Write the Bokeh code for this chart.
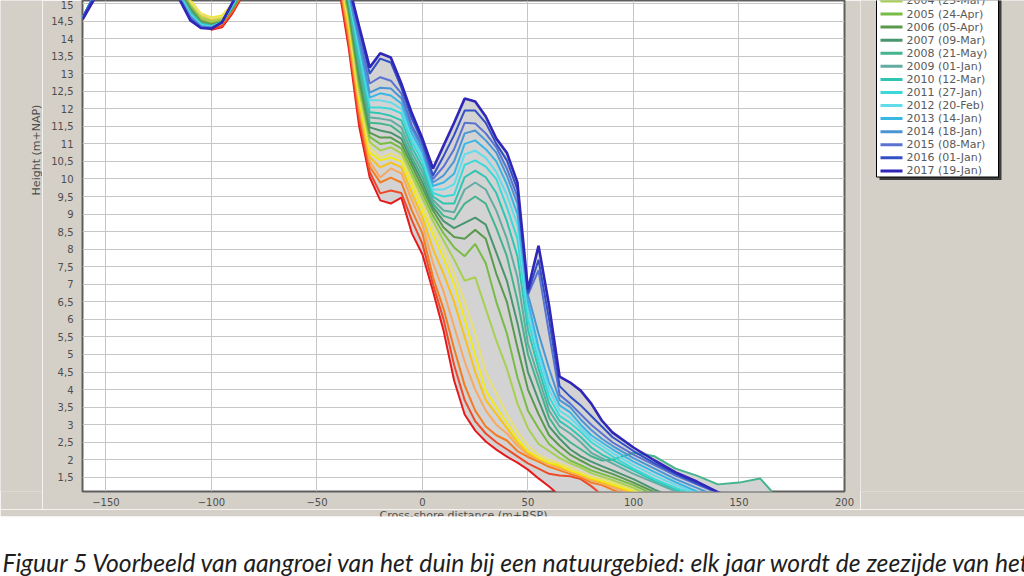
import math
import numpy as np
from bokeh.plotting import figure
from bokeh.layouts import column, row
from bokeh.models import Range1d, FixedTicker, CustomJSTickFormatter, ColumnDataSource
from bokeh.core.properties import value
from bokeh.embed import file_html
from bokeh.resources import INLINE

# ---------------- data ----------------
distance = [-161, -150, -130, -120, -115, -110, -105, -100, -95, -90, -85, -70, -55, -45,
            -40, -35, -30, -25, -20, -15, -10, -5, 0, 5, 10, 15, 20, 25, 30, 35, 40, 45,
            50, 55, 60, 65, 70, 75, 80, 85, 90, 100, 110, 120, 130, 140, 150, 160, 170]

years = [1997, 1998, 1999, 2000, 2001, 2002, 2003, 2004, 2005, 2006, 2007,
         2008, 2009, 2010, 2011, 2012, 2013, 2014, 2015, 2016, 2017]

legend_years = [2004, 2005, 2006, 2007, 2008, 2009, 2010, 2011, 2012, 2013, 2014, 2015, 2016, 2017]
legend_dates = ["25-Mar", "24-Apr", "05-Apr", "09-Mar", "21-May", "01-Jan", "12-Mar", "27-Jan",
                "20-Feb", "14-Jan", "18-Jan", "08-Mar", "01-Jan", "19-Jan"]

colors = ["#e41a1c", "#ee4a2a", "#f47c20", "#f8a860", "#f6c21c", "#f2ea1a", "#e8e070",
          "#a8d050", "#78bc46", "#5a9a4c", "#4a9470", "#44b48c", "#62aca2", "#30c4b2",
          "#3cd8d8", "#62dcea", "#3ab6e4", "#4a96d4", "#5a72d2", "#3050c4", "#3026b8"]

h1997 = [14.6, 15.9, 16.1, 15.7, 15.35, 14.9, 14.5, 14.25, 14.32, 14.72, 15.25, 16.2, 16.6, 16.8,
         15.6, 13.75, 11.5, 10.05, 9.39, 9.3, 9.47, 8.45, 7.85, 6.8, 5.68, 4.26, 3.29, 2.83, 2.52,
         2.29, 2.09, 1.92, 1.72, 1.47, 1.24, 0.98, 0.7, 0.5, 0.3, 0.1, 0.0, -0.3, -0.5, -0.7,
         -0.9, -1.0, -1.1, -1.2, -1.3]
h1998 = [14.6, 15.9, 16.1, 15.7, 15.35, 14.9, 14.5, 14.28, 14.36, 14.76, 15.3, 16.2, 16.6, 16.8,
         15.75, 13.9, 11.7, 10.2, 9.59, 9.67, 9.6, 8.82, 8.15, 7.0, 6.0, 4.7, 3.7, 3.1, 2.75,
         2.5, 2.3, 2.1, 1.9, 1.75, 1.6, 1.55, 1.53, 1.45, 1.25, 1.0, 0.8, 0.5, 0.2, 0.0,
         -0.2, -0.4, -0.6, -0.8, -1.0]
h1999 = [14.6, 15.9, 16.1, 15.7, 15.4, 14.95, 14.55, 14.35, 14.42, 14.82, 15.3, 16.2, 16.6, 16.8,
         15.85, 14.05, 11.9, 10.35, 9.9, 10.04, 9.9, 9.1, 8.45, 7.2, 6.3, 5.17, 4.12, 3.4, 2.95,
         2.7, 2.55, 2.25, 2.08, 1.95, 1.8, 1.7, 1.6, 1.5, 1.35, 1.28, 1.15, 0.9, 0.6, 0.3,
         0.1, -0.1, -0.3, -0.5, -0.7]
h2000 = [14.6, 15.9, 16.1, 15.7, 15.45, 15.0, 14.6, 14.45, 14.5, 14.88, 15.35, 16.2, 16.6, 16.8,
         15.95, 14.2, 12.05, 10.5, 10.04, 10.3, 10.16, 9.39, 8.7, 7.6, 6.8, 5.8, 4.8, 4.0, 3.4,
         3.0, 2.75, 2.4, 2.15, 2.0, 1.88, 1.75, 1.65, 1.55, 1.42, 1.32, 1.22, 1.0, 0.7, 0.4,
         0.2, 0.0, -0.2, -0.4, -0.6]
h2001 = [14.6, 15.9, 16.1, 15.7, 15.5, 15.05, 14.68, 14.55, 14.6, 14.95, 15.4, 16.2, 16.6, 16.8,
         16.0, 14.35, 12.2, 10.62, 10.33, 10.47, 10.33, 9.6, 8.9, 8.0, 7.3, 6.5, 5.5, 4.5, 3.7,
         3.3, 2.9, 2.5, 2.2, 2.03, 1.9, 1.8, 1.68, 1.58, 1.45, 1.36, 1.27, 1.05, 0.75, 0.45,
         0.25, 0.05, -0.15, -0.35, -0.55]
h2002 = [14.6, 15.9, 16.1, 15.7, 15.5, 15.1, 14.72, 14.6, 14.66, 15.0, 15.45, 16.2, 16.6, 16.8,
         16.05, 14.45, 12.3, 10.75, 10.53, 10.61, 10.5, 9.81, 9.1, 8.4, 7.74, 7.0, 6.0, 4.97, 3.97,
         3.5, 3.05, 2.6, 2.25, 2.06, 1.92, 1.85, 1.7, 1.6, 1.48, 1.4, 1.3, 1.1, 0.8, 0.5,
         0.3, 0.1, -0.1, -0.3, -0.5]
h2003 = [14.6, 15.9, 16.1, 15.7, 15.5, 15.05, 14.7, 14.58, 14.62, 14.98, 15.4, 16.2, 16.6, 16.8,
         16.1, 14.55, 12.4, 10.9, 10.61, 10.73, 10.6, 9.96, 9.25, 8.6, 8.0, 7.3, 6.5, 5.6, 4.5,
         3.9, 3.3, 2.8, 2.4, 2.15, 2.0, 1.9, 1.78, 1.65, 1.52, 1.45, 1.36, 1.15, 0.85, 0.55,
         0.35, 0.15, -0.05, -0.25, -0.45]
h2004 = [14.6, 15.9, 16.1, 15.7, 15.45, 14.95, 14.6, 14.5, 14.55, 14.9, 15.4, 16.2, 16.6, 16.8,
         16.15, 14.65, 12.55, 11.05, 10.81, 10.9, 10.73, 10.1, 9.45, 8.8, 8.25, 7.7, 7.1, 7.2, 6.3,
         5.4, 4.6, 3.6, 2.9, 2.45, 2.25, 2.05, 1.9, 1.78, 1.62, 1.52, 1.42, 1.2, 0.9, 0.6,
         0.4, 0.2, 0.0, -0.2, -0.4]
h2005 = [14.6, 15.9, 16.1, 15.7, 15.4, 14.9, 14.52, 14.43, 14.5, 14.86, 15.35, 16.2, 16.6, 16.8,
         16.2, 14.75, 12.7, 11.2, 11.0, 11.04, 10.87, 10.24, 9.6, 8.95, 8.45, 8.05, 7.8, 8.15, 7.6,
         6.5, 5.6, 4.35, 3.4, 2.9, 2.45, 2.2, 1.98, 1.85, 1.7, 1.6, 1.5, 1.28, 1.0, 0.7,
         0.5, 0.3, 0.1, -0.1, -0.3]
h2006 = [14.6, 15.9, 16.1, 15.7, 15.4, 14.85, 14.48, 14.4, 14.47, 14.85, 15.35, 16.2, 16.6, 16.8,
         16.2, 14.85, 12.85, 11.32, 11.18, 11.18, 11.0, 10.38, 9.75, 9.1, 8.62, 8.35, 8.3, 8.55, 8.3,
         7.3, 6.5, 5.2, 4.0, 3.3, 2.7, 2.4, 2.15, 1.98, 1.82, 1.7, 1.6, 1.35, 1.08, 0.8,
         0.6, 0.4, 0.2, 0.0, -0.2]
h2007 = [14.6, 15.9, 16.1, 15.7, 15.35, 14.8, 14.45, 14.38, 14.47, 14.88, 15.4, 16.2, 16.6, 16.8,
         16.25, 14.95, 13.0, 11.47, 11.38, 11.32, 11.15, 10.5, 9.9, 9.2, 8.8, 8.6, 8.75, 8.9, 8.7,
         7.9, 7.1, 5.9, 4.5, 3.7, 2.95, 2.6, 2.3, 2.1, 1.95, 1.82, 1.7, 1.45, 1.15, 0.9,
         0.7, 0.5, 0.3, 0.1, -0.1]
h2008 = [14.6, 15.9, 16.1, 15.7, 15.3, 14.78, 14.44, 14.37, 14.47, 14.9, 15.4, 16.2, 16.6, 16.8,
         16.25, 15.05, 13.15, 11.6, 11.58, 11.52, 11.3, 10.61, 10.05, 9.3, 8.95, 8.85, 9.3, 9.5, 9.3,
         8.6, 7.8, 6.54, 5.0, 4.1, 3.2, 2.75, 2.5, 2.3, 2.1, 1.98, 2.0, 2.2, 2.1, 1.75,
         1.55, 1.3, 1.35, 1.47, 0.8]
h2009 = [14.6, 15.9, 16.1, 15.7, 15.3, 14.75, 14.43, 14.36, 14.47, 14.92, 15.4, 16.2, 16.6, 16.8,
         16.3, 15.1, 13.3, 11.75, 11.72, 11.67, 11.47, 10.75, 10.2, 9.4, 9.1, 9.05, 9.7, 9.9, 9.7,
         9.1, 8.3, 7.2, 5.3, 4.35, 3.4, 2.95, 2.75, 2.5, 2.2, 2.05, 1.9, 1.6, 1.35, 1.1,
         0.95, 0.8, 0.6, 0.4, 0.2]
h2010 = [14.6, 15.9, 16.1, 15.7, 15.25, 14.72, 14.42, 14.35, 14.46, 14.94, 15.45, 16.2, 16.6, 16.8,
         16.3, 15.15, 13.45, 11.9, 11.87, 11.8, 11.67, 10.9, 10.35, 9.5, 9.3, 9.3, 10.05, 10.24,
         10.05, 9.6, 8.8, 7.8, 5.7, 4.6, 3.6, 3.1, 2.9, 2.65, 2.35, 2.15, 2.0, 1.7, 1.4, 1.15,
         0.9, 0.7, 0.5, 0.3, 0.1]
h2011 = [14.6, 15.9, 16.1, 15.7, 15.25, 14.7, 14.4, 14.34, 14.46, 14.96, 15.45, 16.2, 16.6, 16.8,
         16.3, 15.2, 13.6, 12.04, 12.04, 12.0, 11.87, 11.05, 10.5, 9.6, 9.5, 9.55, 10.4, 10.53,
         10.35, 10.0, 9.2, 8.3, 6.0, 4.8, 3.8, 3.25, 3.05, 2.8, 2.5, 2.3, 2.1, 1.75, 1.45, 1.2,
         1.0, 0.8, 0.6, 0.4, 0.2]
h2012 = [14.6, 15.9, 16.1, 15.7, 15.2, 14.68, 14.38, 14.33, 14.46, 14.98, 15.45, 16.2, 16.6, 16.8,
         16.3, 15.25, 13.75, 12.24, 12.24, 12.18, 12.0, 11.18, 10.62, 9.7, 9.7, 9.85, 10.7, 10.81,
         10.6, 10.2, 9.55, 8.7, 6.3, 5.0, 4.0, 3.4, 3.2, 2.9, 2.6, 2.4, 2.2, 1.85, 1.55, 1.28,
         1.05, 0.85, 0.65, 0.45, 0.25]
h2013 = [14.6, 15.9, 16.1, 15.7, 15.2, 14.65, 14.36, 14.32, 14.46, 15.0, 15.5, 16.2, 16.6, 16.8,
         16.3, 15.3, 13.85, 12.32, 12.44, 12.38, 12.15, 11.3, 10.75, 9.8, 9.9, 10.15, 11.0, 11.1,
         10.85, 10.5, 9.85, 9.0, 6.5, 5.2, 4.2, 3.55, 3.35, 3.0, 2.7, 2.5, 2.3, 1.95, 1.65, 1.36,
         1.1, 0.9, 0.7, 0.5, 0.3]
h2014 = [14.6, 15.9, 16.1, 15.7, 15.15, 14.62, 14.35, 14.31, 14.46, 15.0, 15.5, 16.2, 16.6, 16.8,
         16.35, 15.35, 13.95, 12.46, 12.6, 12.58, 12.3, 11.44, 10.85, 9.9, 10.1, 10.5, 11.3, 11.38,
         11.1, 10.75, 10.1, 9.3, 6.7, 5.6, 4.6, 3.7, 3.5, 3.15, 2.85, 2.6, 2.4, 2.05, 1.75, 1.45,
         1.2, 0.95, 0.75, 0.55, 0.35]
h2015 = [14.6, 15.9, 16.1, 15.7, 15.15, 14.6, 14.33, 14.3, 14.46, 15.02, 15.5, 16.2, 16.6, 16.8,
         16.35, 15.4, 14.1, 12.72, 12.9, 12.8, 12.44, 11.52, 10.95, 10.0, 10.35, 10.85, 11.6, 11.58,
         11.3, 10.9, 10.3, 9.5, 6.7, 7.4, 5.6, 3.85, 3.6, 3.3, 3.0, 2.75, 2.5, 2.15, 1.85, 1.55,
         1.3, 1.05, 0.85, 0.65, 0.45]
h2016 = [14.6, 15.8, 16.1, 15.7, 15.1, 14.55, 14.31, 14.29, 14.46, 15.02, 15.5, 16.2, 16.6, 16.8,
         16.35, 15.48, 14.3, 13.0, 13.43, 13.32, 12.6, 11.72, 11.05, 10.1, 10.65, 11.25, 11.95, 11.95,
         11.6, 11.0, 10.53, 9.7, 6.75, 7.7, 6.0, 4.1, 3.8, 3.55, 3.25, 2.95, 2.65, 2.25, 1.9, 1.6,
         1.32, 1.08, 0.85, 0.65, 0.45]
h2017 = [14.55, 15.7, 16.1, 15.5, 15.1, 14.52, 14.3, 14.28, 14.46, 15.03, 15.5, 16.2, 16.6, 16.8,
         16.35, 15.55, 14.35, 13.18, 13.58, 13.46, 12.72, 11.87, 11.15, 10.3, 10.95, 11.6, 12.29,
         12.21, 11.78, 11.15, 10.75, 9.9, 6.85, 8.1, 6.4, 4.37, 4.2, 3.97, 3.6, 3.12, 2.78, 2.35,
         1.98, 1.64, 1.38, 1.08, 0.85, 0.65, 0.45]

profiles = [h1997, h1998, h1999, h2000, h2001, h2002, h2003, h2004, h2005, h2006, h2007,
            h2008, h2009, h2010, h2011, h2012, h2013, h2014, h2015, h2016, h2017]

x_ticks = [-150, -100, -50, 0, 50, 100, 150, 200]
y_ticks = [1.5, 2, 2.5, 3, 3.5, 4, 4.5, 5, 5.5, 6, 6.5, 7, 7.5, 8, 8.5, 9, 9.5, 10, 10.5,
           11, 11.5, 12, 12.5, 13, 13.5, 14, 14.5, 15]

y_title = "Height (m+NAP)"
x_title = "Cross-shore distance (m+RSP)"
caption = ("Figuur 5 Voorbeeld van aangroei van het duin bij een natuurgebied: "
           "elk jaar wordt de zeezijde van het")

# ---------------- styling ----------------
PANEL = "#d4d0c8"
TXT = "#4e4e4e"
TOP_H = 509          # height of the chart row (frame + tick labels)


def bare(fig, bg):
    fig.border_fill_color = bg
    fig.background_fill_color = bg
    fig.outline_line_color = None
    fig.grid.visible = False


# ---------------- y-axis title strip ----------------
ylab = figure(width=42, height=TOP_H, x_range=Range1d(0, 42), y_range=Range1d(TOP_H, 0),
              x_axis_type=None, y_axis_type=None, output_backend="svg",
              toolbar_location=None, min_border=0)
bare(ylab, PANEL)
ylab.text(x=[36], y=[155], text=[y_title], angle=math.pi / 2, text_align="center",
          text_baseline="middle", text_font=value("DejaVu Sans"),
          text_font_size=value("11px"), text_color=TXT)

# ---------------- main chart ----------------
p = figure(width=818, height=TOP_H,
           x_range=Range1d(-161.1, 200), y_range=Range1d(1.097, 15.085),
           output_backend="svg", toolbar_location=None,
           min_border_left=40, min_border_right=16, min_border_top=0, min_border_bottom=18)
p.border_fill_color = PANEL
p.background_fill_color = "white"
p.outline_line_color = "#5e5e5e"
p.outline_line_width = 2

p.xaxis.ticker = FixedTicker(ticks=x_ticks)
p.yaxis.ticker = FixedTicker(ticks=y_ticks)
p.yaxis.formatter = CustomJSTickFormatter(code="return tick.toString().replace('.', ',');")
for ax in (p.xaxis[0], p.yaxis[0]):
    ax.axis_line_color = None
    ax.major_tick_line_color = None
    ax.minor_tick_line_color = None
    ax.major_tick_out = 0
    ax.major_tick_in = 0
    ax.minor_tick_out = 0
    ax.minor_tick_in = 0
    ax.major_label_text_font = "DejaVu Sans"
    ax.major_label_text_font_size = "10px"
    ax.major_label_text_color = TXT
p.yaxis.major_label_standoff = 9
p.xaxis.major_label_standoff = 6
p.xgrid.grid_line_color = "#c6c6c6"
p.ygrid.grid_line_color = "#c6c6c6"

stack = np.array(profiles)
env_low = stack.min(axis=0)
env_high = stack.max(axis=0)
p.varea(x=distance, y1=env_low, y2=env_high, fill_color="#d3d3d3")

for yr, h, c in zip(years, profiles, colors):
    p.line(distance, h, line_color=c, line_width=2.6 if yr == 2017 else 2)

# ---------------- legend panel ----------------
leg = figure(width=164, height=TOP_H, x_range=Range1d(860, 1024), y_range=Range1d(TOP_H, 0),
             x_axis_type=None, y_axis_type=None, output_backend="svg",
             toolbar_location=None, min_border=0)
bare(leg, PANEL)
leg.quad(left=[879], right=[1001], top=[-20], bottom=[186], fill_color="#3c3c3c", line_color=None)
leg.quad(left=[876], right=[998], top=[-20], bottom=[183], fill_color="white",
         line_color="#000000", line_width=1)

n = len(legend_years)
leg_y = [0.5 + 13.55 * i for i in range(n)]
leg_cols = colors[-n:]
leg_src = ColumnDataSource(dict(
    x0=[880] * n, x1=[902] * n, xt=[906] * n, y=leg_y, c=leg_cols,
    t=[f"{y} ({d})" for y, d in zip(legend_years, legend_dates)]))
leg.segment(x0="x0", y0="y", x1="x1", y1="y", line_color="c", line_width=3, source=leg_src)
leg.text(x="xt", y="y", text="t", source=leg_src, text_font=value("DejaVu Sans"),
         text_font_size=value("11px"), text_color="#5a5a5a", text_baseline="middle")

# ---------------- bottom band: x-axis title (cut by the page, as in the source) + caption ----
cap = figure(width=1024, height=576 - TOP_H, x_range=Range1d(0, 1024),
             y_range=Range1d(576, TOP_H), x_axis_type=None, y_axis_type=None,
             output_backend="svg", toolbar_location=None, min_border=0)
bare(cap, "white")
cap.quad(left=[0], right=[1024], top=[TOP_H], bottom=[516], fill_color=PANEL, line_color=None)
cap.text(x=[463], y=[515], text=[x_title], text_align="center", text_baseline="middle",
         text_font=value("DejaVu Sans"), text_font_size=value("11px"), text_color=TXT)
cap.quad(left=[0], right=[1024], top=[516], bottom=[576], fill_color="white", line_color=None)
cap.text(x=[2], y=[562], text=[caption], text_align="left", text_baseline="alphabetic",
         text_font=value("Lato"), text_font_style="italic", text_font_size=value("24.7px"),
         text_color="#1e1e1e")

layout = column(row(ylab, p, leg), cap)
open("out.html", "w").write(file_html(layout, INLINE))
